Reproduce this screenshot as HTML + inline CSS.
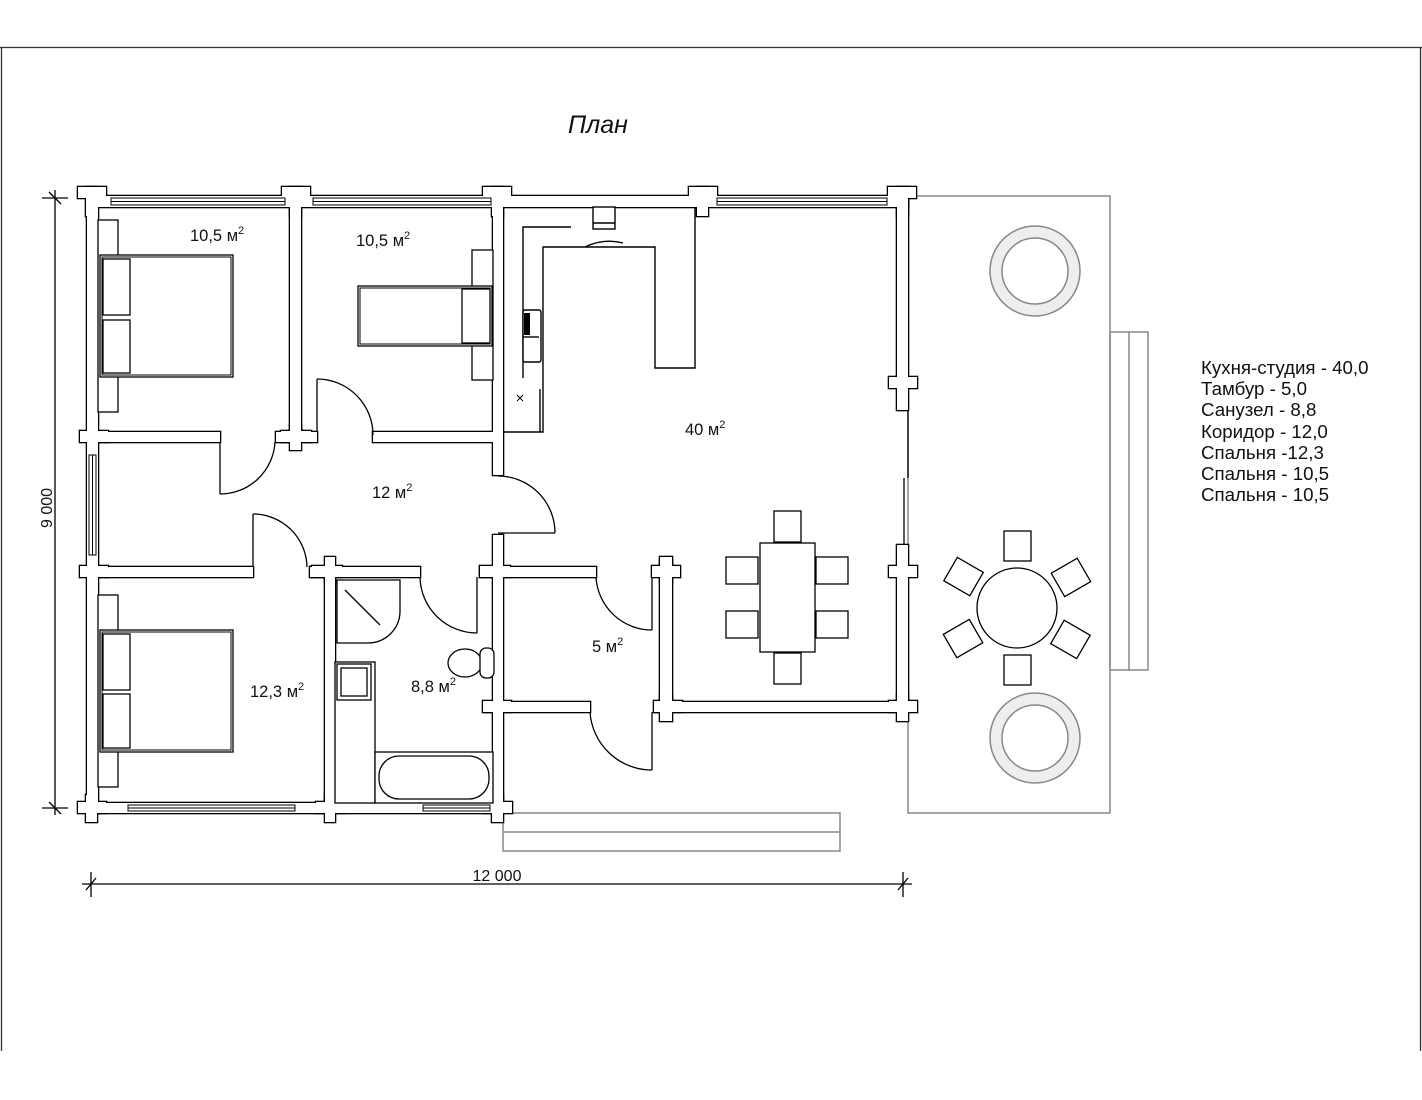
<!DOCTYPE html>
<html><head><meta charset="utf-8"><style>
html,body{margin:0;padding:0;background:#fff;width:1422px;height:1100px;overflow:hidden}
svg{display:block}
text{font-family:"Liberation Sans",Arial,sans-serif;fill:#111}
</style></head><body>
<svg width="1422" height="1100" viewBox="0 0 1422 1100" xmlns="http://www.w3.org/2000/svg">
<defs>
<g id="walls">
 <rect x="87" y="196" width="821" height="11"/>
 <rect x="87" y="196" width="11" height="617"/>
 <rect x="290" y="196" width="11" height="246"/>
 <rect x="493" y="196" width="10" height="279"/>
 <rect x="493" y="535" width="10" height="278"/>
 <rect x="897" y="196" width="11" height="214"/>
 <rect x="897" y="545" width="11" height="167"/>
 <rect x="87" y="803" width="416" height="10"/>
 <rect x="98" y="432" width="122" height="10"/>
 <rect x="276" y="432" width="41" height="10"/>
 <rect x="373" y="432" width="125" height="10"/>
 <rect x="98" y="567" width="155" height="10"/>
 <rect x="310" y="567" width="110" height="10"/>
 <rect x="480" y="567" width="116" height="10"/>
 <rect x="325" y="567" width="10" height="246"/>
 <rect x="660" y="560" width="12" height="152"/>
 <rect x="655" y="702" width="253" height="10"/>
 <rect x="485" y="702" width="105" height="10"/>
 <rect x="78" y="187" width="28" height="11"/><rect x="86" y="187" width="11" height="29"/>
 <rect x="282" y="187" width="28" height="11"/><rect x="290" y="187" width="11" height="29"/>
 <rect x="483" y="187" width="28" height="11"/><rect x="492" y="187" width="11" height="29"/>
 <rect x="689" y="187" width="28" height="11"/><rect x="697" y="187" width="11" height="29"/>
 <rect x="888" y="187" width="28" height="11"/><rect x="897" y="187" width="11" height="29"/>
 <rect x="80" y="431" width="28" height="11"/>
 <rect x="281" y="431" width="30" height="11"/><rect x="290" y="425" width="11" height="25"/>
 <rect x="80" y="566" width="28" height="11"/>
 <rect x="312" y="566" width="30" height="11"/><rect x="325" y="557" width="10" height="25"/>
 <rect x="480" y="566" width="30" height="11"/>
 <rect x="652" y="566" width="28" height="11"/><rect x="660" y="557" width="12" height="25"/>
 <rect x="889" y="377" width="28" height="11"/>
 <rect x="889" y="566" width="28" height="11"/>
 <rect x="889" y="701" width="28" height="11"/><rect x="897" y="695" width="11" height="26"/>
 <rect x="654" y="701" width="28" height="11"/><rect x="660" y="695" width="12" height="26"/>
 <rect x="483" y="701" width="28" height="11"/>
 <rect x="78" y="802" width="28" height="11"/><rect x="86" y="795" width="11" height="27"/>
 <rect x="316" y="802" width="28" height="11"/><rect x="325" y="795" width="10" height="27"/>
 <rect x="484" y="802" width="28" height="11"/><rect x="492" y="795" width="11" height="27"/>
</g>
</defs>

<line x1="0" y1="47.5" x2="1422" y2="47.5" stroke="#333" stroke-width="1.3"/>
<line x1="1.5" y1="47" x2="1.5" y2="1051" stroke="#333" stroke-width="1.3"/>
<line x1="1420.5" y1="47" x2="1420.5" y2="1051" stroke="#333" stroke-width="1.3"/>

<text x="568" y="133" font-size="25" font-style="italic">План</text>

<g fill="none" stroke="#888" stroke-width="1.5">
 <rect x="908" y="196" width="202" height="617"/>
 <rect x="1110" y="332" width="38" height="338"/>
 <line x1="1129" y1="332" x2="1129" y2="670"/>
 <rect x="503" y="813" width="337" height="38"/>
 <line x1="503" y1="832" x2="840" y2="832"/>
</g>

<use href="#walls" fill="#000" stroke="#000" stroke-width="2.6"/>
<use href="#walls" fill="#fff" stroke="none"/>

<g fill="#fff" stroke="#000" stroke-width="1">
 <rect x="111" y="198" width="174" height="7"/><line x1="111" y1="201.5" x2="285" y2="201.5"/>
 <rect x="313" y="198" width="178" height="7"/><line x1="313" y1="201.5" x2="491" y2="201.5"/>
 <rect x="717" y="198" width="170" height="7"/><line x1="717" y1="201.5" x2="887" y2="201.5"/>
 <rect x="128" y="805" width="167" height="6"/><line x1="128" y1="808" x2="295" y2="808"/>
 <rect x="423" y="805" width="67" height="6"/><line x1="423" y1="808" x2="490" y2="808"/>
 <rect x="89" y="455" width="7" height="100"/><line x1="92.5" y1="455" x2="92.5" y2="555"/>
</g>
<g stroke="#000" stroke-width="1.3">
 <line x1="908" y1="410" x2="908" y2="478"/>
 <line x1="904" y1="478" x2="904" y2="545"/>
</g>

<g fill="none" stroke="#000" stroke-width="1.3">
 <line x1="220" y1="442" x2="220" y2="494"/><path d="M220,494 A55,55 0 0 0 275,442"/>
 <line x1="317" y1="432" x2="317" y2="379"/><path d="M317,379 A56,56 0 0 1 373,435"/>
 <line x1="253" y1="567" x2="253" y2="514"/><path d="M253,514 A54,54 0 0 1 307,567"/>
 <line x1="477" y1="577" x2="477" y2="633"/><path d="M420,577 A57,57 0 0 0 477,633"/>
 <line x1="498" y1="533" x2="555" y2="533"/><path d="M555,533 A57,57 0 0 0 498,476"/>
 <line x1="652" y1="577" x2="652" y2="630"/><path d="M596,577 A56,56 0 0 0 652,630"/>
 <line x1="652" y1="712" x2="652" y2="770"/><path d="M590,712 A62,62 0 0 0 652,770"/>
</g>

<g fill="#fff" stroke="#000" stroke-width="1.3">
 <rect x="98" y="220" width="20" height="192"/>
 <rect x="100" y="255" width="133" height="122"/><rect x="102" y="257" width="129" height="118" fill="none" stroke-width="1"/>
 <rect x="103" y="259" width="27" height="56"/><rect x="103" y="320" width="27" height="53"/>
 <rect x="472" y="250" width="21" height="130"/>
 <rect x="358" y="286" width="134" height="60"/><rect x="360" y="288" width="130" height="56" fill="none" stroke-width="1"/>
 <rect x="462" y="289" width="28" height="54"/>
 <rect x="98" y="595" width="20" height="192"/>
 <rect x="100" y="630" width="133" height="122"/><rect x="102" y="632" width="129" height="118" fill="none" stroke-width="1"/>
 <rect x="103" y="634" width="27" height="56"/><rect x="103" y="694" width="27" height="54"/>
</g>

<g fill="none" stroke="#000" stroke-width="1.4">
 <polyline points="523,378 523,227 571,227"/>
 <polyline points="503,432 543,432 543,247 655,247 655,368 695,368 695,207"/>
 <line x1="540" y1="389" x2="540" y2="432"/>
 <rect x="593" y="207" width="22" height="22" fill="#fff"/><line x1="593" y1="223" x2="615" y2="223"/>
 <path d="M585,247 Q604,238 623,243"/>
 <rect x="523" y="310" width="18" height="52" rx="2" fill="#fff"/>
 <line x1="523" y1="337" x2="539" y2="337"/>
 <path d="M517,395 l6,6 M523,395 l-6,6" stroke-width="1"/>
</g>
<rect x="524" y="313" width="6" height="22" fill="#000"/>

<g fill="#fff" stroke="#000" stroke-width="1.3">
 <rect x="760" y="543" width="55" height="109"/>
 <rect x="774" y="511" width="27" height="31"/><rect x="774" y="653" width="27" height="31"/>
 <rect x="726" y="557" width="32" height="27"/><rect x="726" y="611" width="32" height="27"/>
 <rect x="816" y="557" width="32" height="27"/><rect x="816" y="611" width="32" height="27"/>
</g>

<g fill="#fff" stroke="#000" stroke-width="1.3">
 <circle cx="1017" cy="608" r="40"/>
 <g transform="translate(1017,608)">
  <rect x="-13" y="-77" width="27" height="30"/>
  <rect x="-13" y="47" width="27" height="30"/>
  <g transform="rotate(60)"><rect x="-13" y="-77" width="27" height="30"/></g>
  <g transform="rotate(120)"><rect x="-13" y="-77" width="27" height="30"/></g>
  <g transform="rotate(-60)"><rect x="-13" y="-77" width="27" height="30"/></g>
  <g transform="rotate(-120)"><rect x="-13" y="-77" width="27" height="30"/></g>
 </g>
</g>
<g fill="#eee" stroke="#888" stroke-width="1.5">
 <circle cx="1035" cy="271" r="45"/><circle cx="1035" cy="271" r="33" fill="#fff"/>
 <circle cx="1035" cy="738" r="45"/><circle cx="1035" cy="738" r="33" fill="#fff"/>
</g>

<g fill="#fff" stroke="#000" stroke-width="1.3">
 <path d="M337,580 H400 V612 A32,32 0 0 1 368,643 H337 Z"/>
 <line x1="345" y1="590" x2="380" y2="625"/>
 <rect x="335" y="662" width="40" height="141"/>
 <rect x="337" y="664" width="34" height="36"/><rect x="341" y="668" width="26" height="28"/>
 <rect x="375" y="752" width="118" height="51"/>
 <rect x="379" y="756" width="110" height="43" rx="20"/>
 <ellipse cx="465" cy="663" rx="17" ry="14"/>
 <rect x="480" y="648" width="14" height="30" rx="6"/>
</g>

<g font-size="16.5">
 <text x="190" y="241">10,5 м<tspan font-size="11" dy="-7">2</tspan></text>
 <text x="356" y="246">10,5 м<tspan font-size="11" dy="-7">2</tspan></text>
 <text x="685" y="435">40 м<tspan font-size="11" dy="-7">2</tspan></text>
 <text x="372" y="498">12 м<tspan font-size="11" dy="-7">2</tspan></text>
 <text x="592" y="652">5 м<tspan font-size="11" dy="-7">2</tspan></text>
 <text x="411" y="692">8,8 м<tspan font-size="11" dy="-7">2</tspan></text>
 <text x="250" y="697">12,3 м<tspan font-size="11" dy="-7">2</tspan></text>
</g>

<g font-size="18.7">
 <text x="1201" y="374">Кухня-студия - 40,0</text>
 <text x="1201" y="395">Тамбур - 5,0</text>
 <text x="1201" y="416">Санузел - 8,8</text>
 <text x="1201" y="438">Коридор - 12,0</text>
 <text x="1201" y="459">Спальня -12,3</text>
 <text x="1201" y="480">Спальня - 10,5</text>
 <text x="1201" y="501">Спальня - 10,5</text>
</g>

<g stroke="#000" stroke-width="1.3">
 <line x1="55" y1="190" x2="55" y2="815"/>
 <line x1="42" y1="198" x2="68" y2="198"/><line x1="49" y1="192" x2="61" y2="204"/>
 <line x1="42" y1="808" x2="68" y2="808"/><line x1="49" y1="802" x2="61" y2="814"/>
 <line x1="82" y1="884" x2="912" y2="884"/>
 <line x1="91" y1="872" x2="91" y2="897"/><line x1="86" y1="890" x2="96" y2="878"/>
 <line x1="903" y1="872" x2="903" y2="897"/><line x1="898" y1="890" x2="908" y2="878"/>
</g>
<text x="497" y="881" font-size="16" text-anchor="middle">12 000</text>
<text transform="translate(52,508) rotate(-90)" font-size="16" text-anchor="middle">9 000</text>
</svg>
</body></html>
